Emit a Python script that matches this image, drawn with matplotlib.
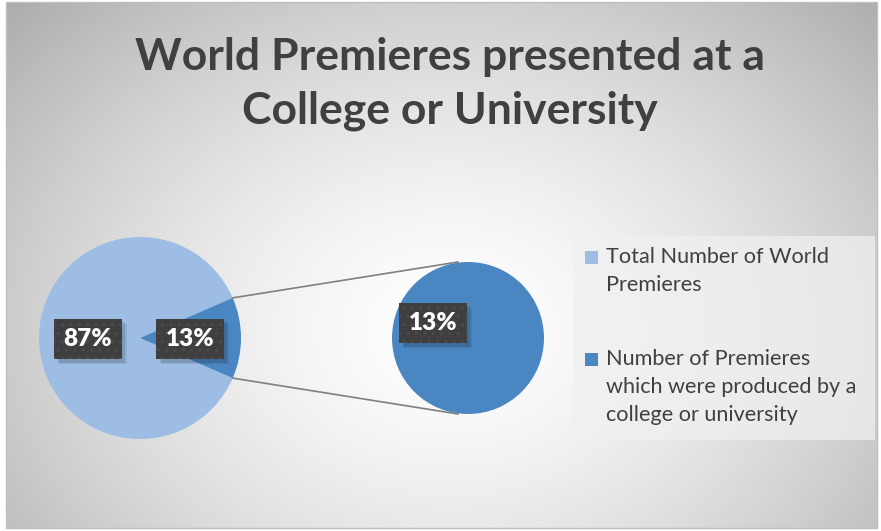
import numpy as np
import matplotlib
matplotlib.use("Agg")
import matplotlib.pyplot as plt
from matplotlib.patches import Rectangle

title = "World Premieres presented at a\nCollege or University"
categories = ["Total Number of World\nPremieres",
              "Number of Premieres\nwhich were produced by a\ncollege or university"]
values = [87, 13]
pct_labels = ["87%", "13%"]
colors = ["#9DBDE4", "#4A86C2"]

W, H = 881, 531
fig = plt.figure(figsize=(W / 100, H / 100), dpi=100)
ax = fig.add_axes([0, 0, 1, 1])
ax.set_xlim(0, W)
ax.set_ylim(H, 0)
ax.axis("off")

# background radial gradient
x0, x1, y0, y1 = 6, 877, 2, 528
xx, yy = np.meshgrid(np.linspace(x0, x1, 400), np.linspace(y0, y1, 260))
d = np.sqrt(((xx - 450) / 540) ** 2 + ((yy - 330) / 420) ** 2)
g = 1 - 0.27 * np.clip(d, 0, 1.3) ** 1.5
img = np.dstack([g, g, g])
ax.imshow(img, extent=(x0, x1, y1, y0), aspect="auto", zorder=0, interpolation="bilinear")
ax.add_patch(Rectangle((x0, y0), x1 - x0, y1 - y0, fill=False, ec="#BFBFBF", lw=1, zorder=1))

ax.text(450, 84, title, ha="center", va="center", fontsize=32, fontweight="bold",
        color="#404040", family="Lato", linespacing=1.42, zorder=5)

# main pie
c1, r1 = (140, 338), 101
half = values[1] / sum(values) * 360 / 2
ax.pie(values, colors=colors, startangle=half, center=c1, radius=r1,
       wedgeprops=dict(linewidth=0), frame=True)
# secondary pie
c2, r2 = (468, 338), 76
ax.pie([values[1]], colors=[colors[1]], center=c2, radius=r2,
       wedgeprops=dict(linewidth=0), frame=True)
ax.set_xlim(0, W)
ax.set_ylim(H, 0)
ax.set_aspect("auto")
ax.axis("off")

# connector lines
a = np.deg2rad(half)
for s in (1, -1):
    p1 = (c1[0] + r1 * np.cos(a), c1[1] - s * r1 * np.sin(a))
    p2 = (c2[0] - 10, c2[1] - s * r2)
    ax.plot([p1[0], p2[0]], [p1[1], p2[1]], color="#808080", lw=1.2, zorder=4)

labels = []
def label(x, y, txt):
    t = ax.text(x, y, txt, ha="center", va="center", fontsize=17.5, fontweight="heavy",
                color="white", family="Lato", zorder=7,
                bbox=dict(boxstyle="square,pad=0.38", fc="#3F3F3F", ec="#4B4B4B", lw=0, hatch=".."))
    labels.append(t)

label(88, 339, pct_labels[0])
label(190, 339, pct_labels[1])
label(433, 323, pct_labels[1])

# shadows under label boxes
fig.canvas.draw()
inv = ax.transData.inverted()
for t in labels:
    bb = t.get_bbox_patch().get_window_extent()
    (ax0, ay0), (ax1, ay1) = inv.transform([[bb.x0, bb.y0], [bb.x1, bb.y1]])
    for k, al in ((5, 0.08), (3.5, 0.12)):
        ax.add_patch(Rectangle((min(ax0, ax1) + k, min(ay0, ay1) + k), abs(ax1 - ax0), abs(ay1 - ay0),
                               fc="black", ec="none", alpha=al, zorder=6))

# legend
ax.add_patch(Rectangle((573, 236), 302, 204, fc="#F0F0F0", ec="none", alpha=0.75, zorder=3))
ys = [258, 360]
for yv, col, cat in zip(ys, colors, categories):
    ax.add_patch(Rectangle((585, yv - 7), 13, 13, fc=col, ec="none", zorder=5))
    ax.text(606, yv - 11, cat, ha="left", va="top", fontsize=15.6, color="#404040",
            family="Lato", linespacing=1.5, zorder=5)

fig.savefig("out.png", dpi=100, facecolor="white")
